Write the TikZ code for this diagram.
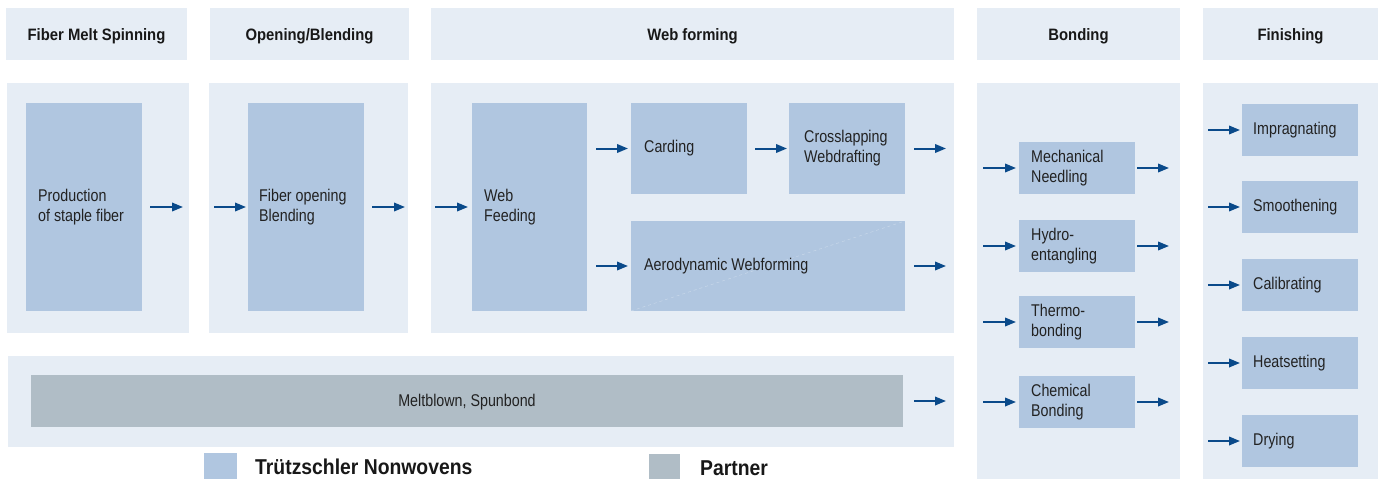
\documentclass[tikz,border=0pt]{standalone}
\usepackage{fontspec}
\setmainfont{Liberation Sans}[FakeStretch=0.84]
\newfontfamily\hdfont{Liberation Sans}[FakeStretch=0.9]
\usetikzlibrary{arrows.meta}
\definecolor{panelc}{HTML}{E6EDF5}
\definecolor{bluec}{HTML}{B0C6E0}
\definecolor{grayc}{HTML}{B0BDC6}
\definecolor{arrc}{HTML}{0A4A8A}
\definecolor{txtc}{HTML}{222222}
\newcommand\mybox[6]{\node[#6, minimum width={#4-#2}, minimum height={#5-#3}] (#1) at ({(#2+#4)/2},{(#3+#5)/2}) {};}
\tikzset{
  base/.style={rectangle, inner sep=0pt, outer sep=0pt, draw=none},
  panel/.style={base, fill=panelc},
  bluebox/.style={base, fill=bluec},
  graybox/.style={base, fill=grayc},
  lbl/.style={anchor=west, align=left, inner sep=0pt, text=txtc, font=\fontsize{17}{20}\selectfont},
  hdr/.style={anchor=base, inner sep=0pt, text=txtc!70!black, font=\hdfont\bfseries\fontsize{16.5}{20}\selectfont},
  legtxt/.style={anchor=base west, inner sep=0pt, text=txtc!70!black, font=\hdfont\bfseries\fontsize{21.5}{24}\selectfont},
  arr/.style={draw=arrc, line width=2pt, -{Triangle[length=11pt,width=8.5pt]}},
}
\begin{document}
\begin{tikzpicture}[x=1pt,y=-1pt]
\useasboundingbox (0,0) rectangle (1383,479);
% headers
\mybox{h1}{6}{8}{187}{60}{panel}
\mybox{h2}{210}{8}{409}{60}{panel}
\mybox{h3}{431}{8}{954}{60}{panel}
\mybox{h4}{977}{8}{1180}{60}{panel}
\mybox{h5}{1203}{8}{1378}{60}{panel}
\node[hdr] (h1t) at ([yshift=-6pt]h1.center) {Fiber Melt Spinning};
\node[hdr] (h2t) at ([yshift=-6pt]h2.center) {Opening/Blending};
\node[hdr] (h3t) at ([yshift=-6pt]h3.center) {Web forming};
\node[hdr] (h4t) at ([yshift=-6pt]h4.center) {Bonding};
\node[hdr] (h5t) at ([yshift=-6pt]h5.center) {Finishing};
% panels
\mybox{p1}{7}{83}{189}{333}{panel}
\mybox{p2}{209}{83}{408}{333}{panel}
\mybox{p3}{431}{83}{954}{333}{panel}
\mybox{p4}{977}{83}{1180}{479}{panel}
\mybox{p5}{1203}{83}{1378}{479}{panel}
\mybox{p6}{8}{356}{954}{447}{panel}
% boxes
\mybox{prod}{26}{103}{142}{311}{bluebox}
\mybox{fo}{248}{103}{364}{311}{bluebox}
\mybox{wf}{472}{103}{587}{311}{bluebox}
\mybox{card}{631}{103}{747}{194}{bluebox}
\mybox{cross}{789}{103}{905}{194}{bluebox}
\mybox{aero}{631}{221}{905}{311}{bluebox}
\mybox{mech}{1019}{142}{1135}{194}{bluebox}
\mybox{hydro}{1019}{220}{1135}{272}{bluebox}
\mybox{thermo}{1019}{296}{1135}{348}{bluebox}
\mybox{chem}{1019}{376}{1135}{428}{bluebox}
\mybox{impr}{1242}{104}{1358}{156}{bluebox}
\mybox{smooth}{1242}{181}{1358}{233}{bluebox}
\mybox{calib}{1242}{259}{1358}{311}{bluebox}
\mybox{heat}{1242}{337}{1358}{389}{bluebox}
\mybox{dry}{1242}{415}{1358}{467}{bluebox}
\mybox{melt}{31}{375}{903}{427}{graybox}
\draw[white, opacity=0.3, line width=0.5pt, dashed] (aero.south west) -- (aero.north east);
% labels
\node[lbl] (prodt) at ([xshift=12pt]prod.west) {Production\\of staple fiber};
\node[lbl] (fot) at ([xshift=11pt]fo.west) {Fiber opening\\Blending};
\node[lbl] (wft) at ([xshift=12pt]wf.west) {Web\\Feeding};
\node[lbl] (cardt) at ([xshift=13pt]card.west) {Carding};
\node[lbl] (crosst) at ([xshift=15pt]cross.west) {Crosslapping\\Webdrafting};
\node[lbl] (aerot) at ([xshift=13pt]aero.west) {Aerodynamic Webforming};
\node[lbl] (mecht) at ([xshift=12pt]mech.west) {Mechanical\\Needling};
\node[lbl] (hydrot) at ([xshift=12pt]hydro.west) {Hydro-\\entangling};
\node[lbl] (thermot) at ([xshift=12pt]thermo.west) {Thermo-\\bonding};
\node[lbl] (chemt) at ([xshift=12pt]chem.west) {Chemical\\Bonding};
\node[lbl] (imprt) at ([xshift=11pt]impr.west) {Impragnating};
\node[lbl] (smootht) at ([xshift=11pt]smooth.west) {Smoothening};
\node[lbl] (calibt) at ([xshift=11pt]calib.west) {Calibrating};
\node[lbl] (heatt) at ([xshift=11pt]heat.west) {Heatsetting};
\node[lbl] (dryt) at ([xshift=11pt]dry.west) {Drying};
\node[lbl, anchor=base] (meltt) at ([yshift=-5pt]melt.center) {Meltblown, Spunbond};
% arrows
\draw[arr] ([xshift=8pt]prod.east) -- ([xshift=41pt]prod.east);
\draw[arr] ([xshift=-34pt]fo.west) -- ([xshift=-2pt]fo.west);
\draw[arr] ([xshift=8pt]fo.east) -- ([xshift=41pt]fo.east);
\draw[arr] ([xshift=-37pt]wf.west) -- ([xshift=-4pt]wf.west);
\draw[arr] ([xshift=-35pt]card.west) -- ([xshift=-3pt]card.west);
\draw[arr] ([xshift=-34pt]cross.west) -- ([xshift=-2pt]cross.west);
\draw[arr] ([xshift=9pt]cross.east) -- ([xshift=41pt]cross.east);
\draw[arr] ([xshift=-35pt]aero.west) -- ([xshift=-3pt]aero.west);
\draw[arr] ([xshift=9pt]aero.east) -- ([xshift=41pt]aero.east);
\draw[arr] ([xshift=11pt]melt.east) -- ([xshift=43pt]melt.east);
\foreach \b in {mech,hydro,thermo,chem}{
  \draw[arr] ([xshift=-36pt]\b.west) -- ([xshift=-3pt]\b.west);
  \draw[arr] ([xshift=2pt]\b.east) -- ([xshift=34pt]\b.east);
}
\foreach \b in {impr,smooth,calib,heat,dry}{
  \draw[arr] ([xshift=-34pt]\b.west) -- ([xshift=-2pt]\b.west);
}
% legend
\mybox{legb}{204}{453}{237}{479}{bluebox}
\mybox{legg}{649}{454}{680}{479}{graybox}
\node[legtxt] (legbt) at ([xshift=18pt,yshift=-8pt]legb.east) {Trützschler Nonwovens};
\node[legtxt] (leggt) at ([xshift=20pt,yshift=-8.5pt]legg.east) {Partner};
\end{tikzpicture}
\end{document}
